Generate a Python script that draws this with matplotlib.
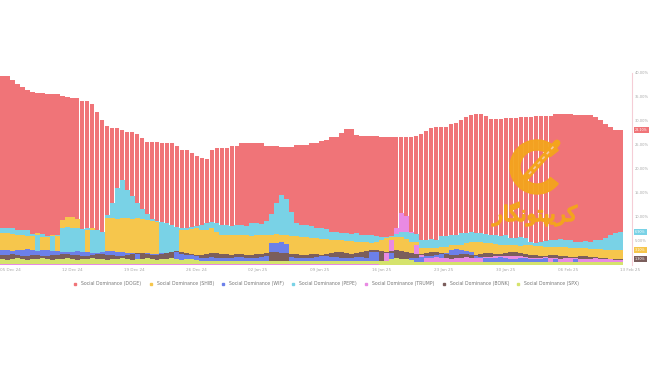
import numpy as np
import matplotlib.pyplot as plt
import matplotlib.patheffects as pe
from matplotlib.patches import Wedge
from matplotlib.lines import Line2D

# social dominance in %, one value per bar
doge = [39.4, 39.4, 38.5, 37.7, 37.1, 36.5, 36.0, 35.8, 35.8, 35.6,
        35.6, 35.6, 35.2, 35.0, 34.8, 34.8, 34.2, 34.2, 33.5, 31.9,
        30.2, 29.0, 28.5, 28.5, 28.1, 27.7, 27.7, 27.3, 26.5, 25.6,
        25.6, 25.6, 25.4, 25.4, 25.4, 24.8, 24.0, 24.0, 23.3, 22.7,
        22.3, 22.1, 24.0, 24.4, 24.4, 24.4, 24.8, 24.8, 25.4, 25.4,
        25.4, 25.4, 25.4, 24.8, 24.8, 24.8, 24.6, 24.6, 24.6, 25.0,
        25.0, 25.0, 25.4, 25.4, 25.8, 26.0, 26.7, 26.7, 27.5, 28.3,
        28.3, 27.1, 26.9, 26.9, 26.9, 26.9, 26.7, 26.7, 26.7, 26.7,
        26.7, 26.7, 26.7, 26.9, 27.3, 27.9, 28.5, 28.8, 28.8, 28.8,
        29.4, 29.6, 30.2, 30.8, 31.2, 31.5, 31.5, 31.0, 30.4, 30.4,
        30.4, 30.6, 30.6, 30.6, 30.8, 30.8, 30.8, 31.0, 31.0, 31.0,
        31.0, 31.5, 31.5, 31.5, 31.5, 31.2, 31.2, 31.2, 31.2, 30.8,
        30.2, 29.4, 28.8, 28.1, 28.1]
shib = [6.7, 6.7, 6.5, 6.3, 6.3, 6.0, 6.0, 6.7, 5.8, 5.8,
        6.3, 6.0, 9.4, 10.0, 10.0, 9.6, 7.5, 7.3, 7.7, 7.3,
        6.9, 9.8, 9.8, 9.6, 9.8, 9.8, 9.6, 9.8, 9.6, 9.4,
        9.2, 9.0, 9.0, 8.8, 8.3, 7.9, 7.3, 7.3, 7.5, 7.7,
        7.3, 7.3, 7.7, 6.9, 6.3, 6.3, 6.3, 6.3, 6.3, 6.3,
        6.0, 6.3, 6.3, 6.3, 6.3, 6.5, 6.3, 6.3, 6.0, 6.0,
        5.8, 5.8, 5.6, 5.6, 5.4, 5.4, 5.2, 5.2, 5.2, 5.0,
        5.0, 4.8, 4.8, 4.8, 4.6, 4.8, 5.2, 5.6, 5.8, 5.8,
        5.8, 5.4, 4.8, 4.8, 3.5, 3.5, 3.5, 3.5, 3.8, 3.8,
        4.2, 4.2, 4.2, 4.6, 4.8, 4.8, 4.8, 4.6, 4.6, 4.4,
        4.2, 4.2, 4.2, 4.2, 4.0, 4.2, 4.2, 4.0, 4.0, 3.8,
        3.8, 3.8, 3.8, 3.8, 3.5, 3.5, 3.5, 3.5, 3.3, 3.3,
        3.3, 3.1, 3.1, 3.1, 3.1]
wif = [3.1, 3.1, 2.9, 3.1, 3.1, 3.3, 3.1, 2.9, 3.1, 3.1,
       2.9, 2.9, 2.7, 2.7, 2.7, 2.9, 2.7, 2.7, 2.5, 2.5,
       2.7, 2.9, 2.9, 2.7, 2.7, 2.5, 2.5, 2.3, 2.5, 2.5,
       2.3, 2.3, 2.5, 2.5, 2.7, 2.7, 2.3, 2.1, 2.1, 1.9,
       1.5, 1.5, 1.7, 1.5, 1.5, 1.5, 1.5, 1.7, 1.7, 1.5,
       1.5, 1.5, 1.7, 1.9, 4.6, 4.6, 4.8, 4.4, 1.7, 1.5,
       1.5, 1.5, 1.5, 1.7, 1.9, 1.9, 1.7, 1.7, 1.5, 1.5,
       1.5, 1.7, 1.7, 1.5, 2.7, 2.7, 2.9, 2.7, 2.5, 1.5,
       1.3, 1.3, 1.5, 1.5, 1.7, 1.9, 1.9, 2.1, 2.3, 2.5,
       3.1, 3.3, 3.1, 2.9, 2.7, 1.9, 1.7, 1.5, 1.5, 1.5,
       1.7, 1.5, 1.3, 1.3, 1.5, 1.5, 1.3, 1.3, 1.3, 1.5,
       1.5, 1.3, 1.3, 1.5, 1.5, 1.3, 1.3, 1.3, 1.3, 1.5,
       1.5, 1.3, 1.3, 1.3, 1.3]
pepe = [7.7, 7.7, 7.7, 7.3, 7.3, 7.3, 6.5, 6.3, 6.5, 6.0,
        6.0, 6.3, 7.7, 7.9, 7.7, 7.7, 7.5, 7.7, 7.3, 7.3,
        6.9, 10.4, 13.0, 16.0, 17.7, 15.6, 14.4, 12.9, 11.7, 10.6,
        9.6, 9.2, 9.0, 8.8, 8.3, 7.9, 7.7, 7.7, 7.9, 8.1,
        8.3, 8.8, 9.0, 8.8, 8.3, 8.3, 8.1, 8.3, 8.3, 8.1,
        8.8, 8.8, 8.6, 9.2, 10.6, 12.9, 14.6, 13.8, 11.0, 8.8,
        8.3, 8.3, 8.1, 7.7, 7.7, 7.5, 6.9, 6.9, 6.7, 6.7,
        6.5, 6.7, 6.3, 6.3, 6.3, 6.0, 5.8, 5.8, 6.0, 6.5,
        6.9, 6.9, 6.7, 6.5, 5.2, 5.2, 5.4, 5.2, 6.0, 6.0,
        6.3, 6.3, 6.7, 6.7, 6.9, 6.7, 6.7, 6.5, 6.3, 6.3,
        6.0, 6.3, 5.6, 5.6, 5.8, 5.6, 4.8, 4.6, 4.8, 5.0,
        5.2, 5.2, 5.4, 5.2, 5.2, 4.8, 4.8, 5.0, 4.8, 5.2,
        5.2, 5.6, 6.3, 6.7, 6.9]
trump = [0.3] * 76 + [0.8, 2.5, 5.2, 7.7, 10.8, 10.2, 6.9, 4.2, 2.0,
                      1.4, 1.5, 1.6, 1.5, 1.4, 1.3, 1.4, 1.5, 1.6, 1.5,
                      1.4, 1.5, 1.6, 1.7, 1.8, 1.9, 1.9, 1.8, 1.9, 1.8,
                      1.6, 1.5, 1.4, 1.5, 1.6, 1.5, 1.4, 1.3, 1.4, 1.5,
                      1.4, 1.3, 1.2, 1.3, 1.4, 1.3, 1.2, 1.2, 1.1, 1.0]
bonk = [2.1, 2.1, 2.3, 2.1, 1.9, 1.9, 2.1, 2.1, 1.9, 1.9,
        2.1, 2.1, 2.3, 2.3, 2.1, 2.1, 1.9, 1.9, 2.1, 2.3,
        2.3, 2.1, 2.1, 1.9, 1.9, 2.1, 2.3, 2.5, 2.5, 2.3,
        2.1, 2.1, 2.3, 2.5, 2.7, 2.9, 2.7, 2.5, 2.3, 2.1,
        2.1, 2.3, 2.5, 2.5, 2.3, 2.3, 2.1, 2.3, 2.3, 2.1,
        2.1, 2.3, 2.3, 2.5, 2.7, 2.7, 2.5, 2.5, 2.3, 2.3,
        2.1, 2.1, 2.3, 2.3, 2.1, 2.3, 2.5, 2.7, 2.7, 2.5,
        2.3, 2.5, 2.7, 2.9, 3.1, 3.1, 2.9, 2.7, 2.9, 3.1,
        2.9, 2.7, 2.5, 2.3, 2.3, 2.5, 2.7, 2.7, 2.5, 2.3,
        2.1, 2.1, 2.3, 2.3, 2.1, 2.1, 2.3, 2.5, 2.5, 2.3,
        2.3, 2.5, 2.7, 2.7, 2.5, 2.3, 2.1, 2.1, 1.9, 1.9,
        2.1, 2.1, 1.9, 1.9, 1.7, 1.7, 1.9, 1.9, 1.7, 1.7,
        1.5, 1.5, 1.3, 1.3, 1.3]
spx = [1.2, 1.0, 1.2, 1.4, 1.2, 1.0, 1.2, 1.2, 1.4, 1.2,
       1.0, 1.2, 1.2, 1.4, 1.2, 1.0, 1.2, 1.2, 1.4, 1.2,
       1.2, 1.0, 1.2, 1.2, 1.4, 1.2, 1.0, 1.2, 1.2, 1.4,
       1.2, 1.0, 1.2, 1.2, 1.4, 1.2, 1.0, 1.2, 1.2, 1.0] + [0.8] * 38 + \
      [1.3, 1.4, 1.3, 1.2, 1.0] + [0.6] * 42

series = ["DOGE", "SHIB", "WIF", "PEPE", "TRUMP", "BONK", "SPX"]
colors = ["#f07478", "#f6c64c", "#6c80ea", "#79d2e6", "#e98ae3", "#7b5e5c", "#d5e36c"]
tick_labels = ["05 Dec 24", "12 Dec 24", "19 Dec 24", "26 Dec 24", "02 Jan 25", "09 Jan 25",
               "16 Jan 25", "23 Jan 25", "30 Jan 25", "06 Feb 25", "13 Feb 25"]
boxed = ["DOGE", "PEPE", "SHIB", "BONK"]

vals = np.array([doge, shib, wif, pepe, trump, bonk, spx])
x = np.arange(vals.shape[1])

# every series drawn from zero, smaller ones in front -> visible band starts at next smaller value
bottoms = np.zeros_like(vals)
for s in range(len(series)):
    lower = np.where(vals < vals[s], vals, 0)
    bottoms[s] = lower.max(axis=0)

fig = plt.figure(figsize=(6.5, 3.65), dpi=100)
ax = fig.add_axes([0, 1 - 265 / 365, 632 / 650, 192 / 365])

for s, name in enumerate(series):
    w = 0.9 if name == "DOGE" else 1.0
    ax.bar(x, vals[s] - bottoms[s], bottom=bottoms[s], width=w, color=colors[s], linewidth=0)

ax.set_xlim(-0.5, 126.3)
ax.set_ylim(0, 40)
for sp in ["top", "left", "bottom"]:
    ax.spines[sp].set_visible(False)
ax.spines["right"].set_color("#f5cdd6")
ax.spines["right"].set_linewidth(0.8)

ax.yaxis.tick_right()
yt = np.arange(5, 41, 5)
ax.set_yticks(yt)
ax.set_yticklabels([f"{t:.2f}%" for t in yt])
ax.tick_params(axis="y", length=0, pad=2, labelsize=2.6, labelcolor="#a8a8a8")
ax.set_xticks(1.5 + 12.44 * np.arange(len(tick_labels)))
ax.set_xticklabels(tick_labels)
ax.tick_params(axis="x", length=0, pad=2, labelsize=3, labelcolor="#a8a8a8")

for name in boxed:
    s = series.index(name)
    v = vals[s][-1]
    ax.annotate(f"{v:.2f}%", xy=(1.0, v), xycoords=("axes fraction", "data"),
                xytext=(2.2, 0), textcoords="offset points", va="center", ha="left",
                fontsize=2.4, color="white",
                bbox=dict(boxstyle="square,pad=0.25", fc=colors[s], ec="none"))

handles = [Line2D([], [], marker="s", ls="", color=c, markersize=2) for c in colors]
fig.legend(handles, [f"Social Dominance ({n})" for n in series], loc="center",
           bbox_to_anchor=(0.5, 1 - 284 / 365), ncol=7, fontsize=3.3, frameon=False,
           handletextpad=0.3, columnspacing=1.0, labelcolor="#777777")

# watermark logo (pixel coords)
ov = fig.add_axes([0, 0, 1, 1], zorder=5)
ov.set_xlim(0, 650)
ov.set_ylim(365, 0)
ov.axis("off")
ov.patch.set_alpha(0)
orange = "#f4a41d"
ov.add_patch(Wedge((537, 167), 27, 38, 322, width=10, color=orange, alpha=0.95))
ov.plot([526, 557], [177, 143], color=orange, lw=5, solid_capstyle="round")
ov.plot([529, 554], [174, 146], color="#f6c9a0", lw=1.2, ls=(0, (2, 2)))
ov.text(535, 214, "\uFEAD\uFE8E\uFB95\uFEE7\uFEEE\uFE98\uFB59\uFBFE\uFEAE\uFB90",
        fontsize=15, color=orange, ha="center", va="center",
        family=["DejaVu Sans", "Noto Sans"], alpha=0.95,
        path_effects=[pe.withStroke(linewidth=1.2, foreground=orange)])

fig.savefig("out.png", dpi=100)
